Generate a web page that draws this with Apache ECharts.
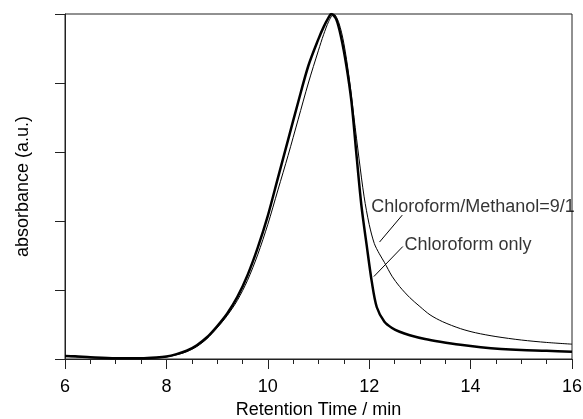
<!DOCTYPE html>
<html>
<head>
<meta charset="utf-8">
<script src="https://cdn.jsdelivr.net/npm/echarts@6/dist/echarts.min.js"></script>
<style>html,body{margin:0;padding:0;background:#fff;}#c{width:583px;height:419px;}</style>
</head>
<body>
<div id="c"></div>
<script>
// Chloroform only (thick)
var chlTime = [6.0,6.2,6.5,7.0,7.5,7.8,8.0,8.2,8.4,8.6,8.8,9.0,9.2,9.4,9.6,9.8,10.0,10.2,10.4,10.6,10.8,11.0,11.1,11.2,11.25,11.35,11.45,11.55,11.65,11.75,11.85,11.95,12.05,12.15,12.3,12.45,12.6,12.8,13.1,13.4,13.8,14.2,14.6,15.0,15.5,16.0];
var chlAbs  = [0.009,0.008,0.005,0.002,0.002,0.004,0.007,0.014,0.024,0.040,0.063,0.095,0.132,0.180,0.243,0.322,0.415,0.525,0.635,0.745,0.85,0.928,0.962,0.99,1.0,0.985,0.93,0.85,0.746,0.59,0.44,0.33,0.225,0.15,0.108,0.090,0.079,0.069,0.058,0.050,0.041,0.034,0.029,0.026,0.024,0.021];
// Chloroform/Methanol = 9/1 (thin)
var mixTime = [6.0,6.2,6.5,7.0,7.5,7.8,8.0,8.2,8.4,8.6,8.8,9.0,9.2,9.4,9.6,9.8,10.0,10.2,10.4,10.6,10.8,11.0,11.1,11.2,11.3,11.4,11.5,11.6,11.7,11.8,11.9,12.0,12.1,12.2,12.3,12.45,12.6,12.8,13.0,13.2,13.45,13.8,14.1,14.5,15.0,15.5,16.0];
var mixAbs  = [0.008,0.006,0.004,0.002,0.002,0.003,0.006,0.012,0.021,0.036,0.059,0.090,0.126,0.170,0.228,0.302,0.390,0.49,0.59,0.695,0.80,0.895,0.94,0.978,1.0,0.975,0.915,0.82,0.70,0.58,0.47,0.39,0.335,0.305,0.28,0.24,0.21,0.178,0.152,0.128,0.108,0.088,0.076,0.065,0.055,0.048,0.043];
var xTicks = [6,8,10,12,14,16];
var labelTexts = ['Chloroform/Methanol=9/1','Chloroform only'];

// annotation placement (data units)
var labelAnchors = [[12.04,0.4406],[12.697,0.329]];
var leaderLines = [[[12.204,0.339],[12.652,0.417]],[[12.092,0.239],[12.663,0.326]]];

function pairs(xs, ys){ return xs.map(function(x,i){return [x, ys[i]];}); }
var FONT = '"Liberation Sans", Arial, sans-serif';
var chart = echarts.init(document.getElementById('c'), null, {renderer:'canvas'});
chart.setOption({
  animation:false,
  backgroundColor:'#fff',
  grid:{left:65,right:11,top:14,bottom:60,containLabel:false,outerBoundsMode:'none',
    show:true,borderColor:'#222',borderWidth:1,backgroundColor:'transparent'},
  xAxis:{type:'value',min:xTicks[0],max:xTicks[xTicks.length-1],interval:2,
    name:'Retention Time / min',nameLocation:'middle',nameGap:40,
    nameTextStyle:{fontFamily:FONT,fontSize:18,color:'#000'},
    axisLine:{show:true,onZero:false,lineStyle:{color:'#222',width:1}},
    axisTick:{show:true,inside:false,length:10,lineStyle:{color:'#222'}},
    minorTick:{show:true,splitNumber:4,length:5,lineStyle:{color:'#222'}},
    axisLabel:{fontFamily:FONT,fontSize:18,color:'#000',margin:19,
      formatter:function(v){return xTicks.indexOf(v)>=0?String(v):'';}},
    splitLine:{show:false},minorSplitLine:{show:false}},
  yAxis:{type:'value',min:0,max:1,interval:0.2,
    name:'absorbance (a.u.)',nameLocation:'middle',nameGap:33,nameRotate:90,
    nameTextStyle:{fontFamily:FONT,fontSize:18,color:'#000'},
    axisLine:{show:true,onZero:false,lineStyle:{color:'#222',width:1}},
    axisTick:{show:true,inside:false,length:10,lineStyle:{color:'#222'}},
    axisLabel:{show:false},splitLine:{show:false}},
  series:[
    {name:'Chloroform/Methanol=9/1',type:'line',data:pairs(mixTime,mixAbs),smooth:0.3,showSymbol:false,
      lineStyle:{color:'#000',width:1},z:3,
      markLine:{silent:true,symbol:'none',label:{show:false},lineStyle:{color:'#000',width:1,type:'solid'},
        data:leaderLines.map(function(l){return [{coord:l[0]},{coord:l[1]}];})}},
    {name:'Chloroform only',type:'line',data:pairs(chlTime,chlAbs),smooth:0.3,showSymbol:false,
      lineStyle:{color:'#000',width:2.5},z:4},
    {type:'scatter',symbolSize:0,silent:true,z:5,
      data:labelAnchors.map(function(p,i){return {value:p,name:labelTexts[i]};}),
      label:{show:true,position:'right',distance:0,formatter:'{b}',fontFamily:FONT,fontSize:18,color:'#000'}}
  ]
});
</script>
</body>
</html>
